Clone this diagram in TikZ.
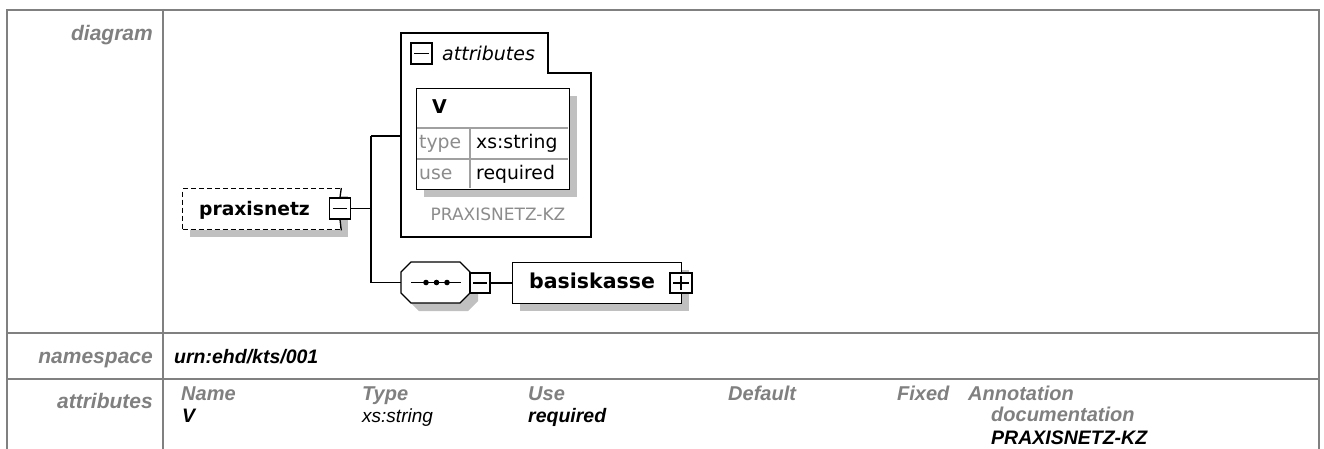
\documentclass[tikz,border=0pt]{standalone}
\usepackage{fontspec}
\setmainfont{Liberation Sans}
\newfontfamily\dvs{DejaVu Sans}
\definecolor{tblgray}{HTML}{808080}
\definecolor{shadowgray}{HTML}{C0C0C0}
\definecolor{gridgray}{HTML}{A0A0A0}
\definecolor{txtgray}{HTML}{8C8C8C}
\tikzset{
  tbl/.style={draw=tblgray, line width=2pt},
  lbl/.style={inner sep=0pt, anchor=base east, text=tblgray, font=\fontsize{21}{25}\selectfont\bfseries\itshape},
  hdr/.style={inner sep=0pt, anchor=base west, text=tblgray, font=\fontsize{20}{24}\selectfont\bfseries\itshape},
  valb/.style={inner sep=0pt, anchor=base west, font=\fontsize{19.5}{23}\selectfont\bfseries\itshape},
  valr/.style={inner sep=0pt, anchor=base west, font=\fontsize{19}{23}\selectfont\itshape},
  dline/.style={draw=black, line width=1.3pt},
  shad/.style={fill=shadowgray, draw=none},
  iconbox/.style={draw=black, line width=1.3pt, fill=white, inner sep=0pt},
  dtxt/.style={inner sep=0pt, anchor=base west},
}
\begin{document}
\begin{tikzpicture}[x=1pt,y=-1pt]
\useasboundingbox (0,0) rectangle (1324,448);
\fill[white] (0,0) rectangle (1324,448);

% ---------- table ----------
\draw[tbl] (7,452) -- (7,10) -- (1319,10) -- (1319,452);
\draw[tbl] (163,10) -- (163,452);
\draw[tbl] (7,333) -- (1319,333);
\draw[tbl] (7,379) -- (1319,379);

\node[lbl] (lDiagram) at (153,40) {diagram};
\node[lbl] (lNamespace) at (153,363) {namespace};
\node[lbl] (lAttributes) at (153,408) {attributes};

\node[valb] (ns) at (174,363) {urn:ehd/kts/001};

\node[hdr] (hName) at (181,400) {Name};
\node[hdr] (hType) at (362,400) {Type};
\node[hdr] (hUse) at (528,400) {Use};
\node[hdr] (hDefault) at (728,400) {Default};
\node[hdr] (hFixed) at (897,400) {Fixed};
\node[hdr] (hAnnot) at (968,400) {Annotation};
\node[hdr] (hDoc) at (991,421) {documentation};

\node[valb] (vName) at (182,422) {V};
\node[valr] (vType) at (362,422) {xs:string};
\node[valb] (vUse) at (528,422) {required};
\node[valb] (vDoc) at (991,444) {PRAXISNETZ-KZ};

% ---------- praxisnetz ----------
\fill[shad] (190,196) rectangle (348,237);
\node[draw=black, line width=1.3pt, dash pattern=on 5pt off 3pt, fill=white,
      minimum width=158pt, minimum height=41pt, inner sep=0pt, anchor=north west] (praxis) at (182,188) {};
\node[dtxt, font=\dvs\fontsize{18.7}{22}\selectfont\bfseries] (praxisT) at (199,215) {praxisnetz};
\node[iconbox, minimum width=21pt, minimum height=21pt] (pm) at (340,208.5) {};
\draw[dline] (pm.north) -- (praxis.north east);
\draw[dline] (pm.south) -- (praxis.south east);
\draw[dline] ([xshift=4pt]pm.west) -- ([xshift=-4pt]pm.east);

% junction
\coordinate (jMid) at (371,208.5);
\coordinate (jTop) at (371,136);
\coordinate (jBot) at (371,282.5);
\coordinate (attrW) at (401,136);
\draw[dline] (pm.east) -- (jMid);
\draw[dline] (jTop) -- (jBot);
\draw[dline] (jTop) -- (attrW);

% ---------- attributes group ----------
\draw[dline, fill=white] (401,33) -- (548,33) -- (548,73) -- (591,73) -- (591,237) -- (401,237) -- cycle;
\node[iconbox, minimum width=21pt, minimum height=21pt] (am) at (421.5,53.5) {};
\draw[dline] ([xshift=4pt]am.west) -- ([xshift=-4pt]am.east);
\node[dtxt, font=\dvs\fontsize{19}{23}\selectfont\itshape] (attrT) at (442,60) {attributes};

\fill[shad] (424,96) rectangle (577,197);
\node[draw=black, line width=1.3pt, fill=white, minimum width=153pt, minimum height=101pt,
      inner sep=0pt, anchor=north west] (vtab) at (416,88) {};
\draw[draw=gridgray, line width=1.2pt] (417,128) -- (568,128);
\draw[draw=gridgray, line width=1.2pt] (417,159) -- (568,159);
\draw[draw=gridgray, line width=1.2pt] (470,128) -- (470,188);
\node[dtxt, font=\dvs\fontsize{19}{23}\selectfont\bfseries] (vV) at (432,113) {V};
\node[dtxt, text=txtgray, font=\dvs\fontsize{18.8}{22}\selectfont] (vTypeL) at (419,148) {type};
\node[dtxt, font=\dvs\fontsize{18.8}{22}\selectfont] (vTypeV) at (476,148) {xs:string};
\node[dtxt, text=txtgray, font=\dvs\fontsize{18.8}{22}\selectfont] (vUseL) at (419,179) {use};
\node[dtxt, font=\dvs\fontsize{18.8}{22}\selectfont] (vUseV) at (476,179) {required};
\node[inner sep=0pt, anchor=base, text=txtgray, font=\dvs\fontsize{17}{20}\selectfont] (vDocT) at (498,220) {PRAXISNETZ-KZ};

% ---------- sequence ----------
\fill[shad] (409,280) -- (419,270) -- (468,270) -- (478,280) -- (478,301) -- (468,311) -- (419,311) -- (409,301) -- cycle;
\draw[dline, fill=white] (401,272) -- (411,262) -- (460,262) -- (470,272) -- (470,293) -- (460,303) -- (411,303) -- (401,293) -- cycle;
\coordinate (seqW) at (401,282.5);
\draw[dline] (jBot) -- (seqW);
\draw[line width=1.3pt] (411,282.5) -- (461,282.5);
\fill (426,282.5) circle (2.8pt);
\fill (436.5,282.5) circle (2.8pt);
\fill (447,282.5) circle (2.8pt);
\node[iconbox, minimum width=20pt, minimum height=20pt] (sm) at (480,283) {};
\draw[dline] ([xshift=4pt]sm.west) -- ([xshift=-4pt]sm.east);

% ---------- basiskasse ----------
\fill[shad] (520,270) rectangle (689,311);
\node[draw=black, line width=1.3pt, fill=white, minimum width=169pt, minimum height=41pt,
      inner sep=0pt, anchor=north west] (bk) at (512,262) {};
\node[dtxt, font=\dvs\fontsize{20.5}{24}\selectfont\bfseries] (bkT) at (529,288) {basiskasse};
\draw[dline] (sm.east) -- (bk.west |- sm.east);
\node[iconbox, minimum width=22pt, minimum height=20pt] (bp) at (681,283) {};
\draw[dline] ([xshift=4pt]bp.west) -- ([xshift=-4pt]bp.east);
\draw[dline] ([yshift=-4pt]bp.north) -- ([yshift=4pt]bp.south);
\end{tikzpicture}
\end{document}
